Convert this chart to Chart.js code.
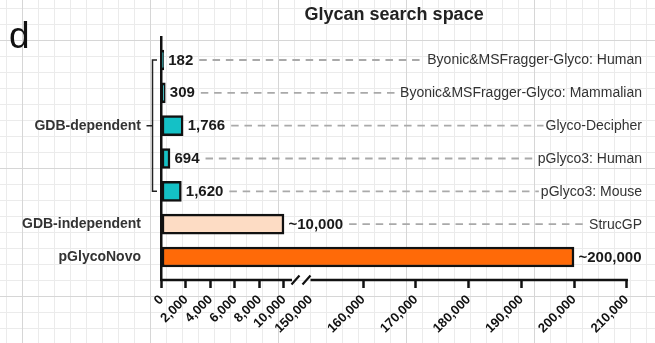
<!DOCTYPE html>
<html><head><meta charset="utf-8">
<script src="https://cdn.jsdelivr.net/npm/chart.js@4.4.0/dist/chart.umd.min.js"></script>
<style>
html,body{margin:0;padding:0;width:655px;height:343px;overflow:hidden;}
body{background-color:#fff;
background-image:
 linear-gradient(to right,#d6d6d6 1px,transparent 1px),
 linear-gradient(to bottom,#d6d6d6 1px,transparent 1px),
 linear-gradient(to right,#ebebeb 1px,transparent 1px),
 linear-gradient(to bottom,#ebebeb 1px,transparent 1px);
background-size:128px 128px,128px 128px,16px 16px,16px 16px;
background-position:22px 0,0 40px,6px 0,0 8px;}
#wrap{position:relative;width:655px;height:343px;}
</style></head><body><div id="wrap"><canvas id="c" width="655" height="343"></canvas></div>
<script>
// ---- data ----
const rowNames = ["Byonic&MSFragger-Glyco: Human","Byonic&MSFragger-Glyco: Mammalian","Glyco-Decipher","pGlyco3: Human","pGlyco3: Mouse","StrucGP",""];
const rowValues = [182, 309, 1766, 694, 1620, 10000, 200000];
const valueLabels = ["182","309","1,766","694","1,620","~10,000","~200,000"];
const rowGroup = [0,0,0,0,0,1,2];
const groupNames = ["GDB-dependent","GDB-independent","pGlycoNovo"];
const xTickValues = [0,2000,4000,6000,8000,10000,150000,160000,170000,180000,190000,200000,210000];
const axisBreak = [10000, 150000];
const panelLetter = "d";
const chartTitle = "Glycan search space";

// ---- styles ----
const groupColors = ["#14c1c6","#fddcc4","#ff6a08"];
const FONT = "'Liberation Sans', Arial, sans-serif";
Chart.defaults.font.family = FONT;

class BrokenLinearScale extends Chart.LinearScale {
  _dec(value){
    const o=this.options, lo=o.breakLow, hi=o.breakHigh, fl=o.lowFraction, fg=o.gapFraction;
    const min=this.min, max=this.max;
    if (value<=lo) return (value-min)/(lo-min)*fl;
    if (value>=hi) return fl+fg+(value-hi)/(max-hi)*(1-fl-fg);
    return fl+(value-lo)/(hi-lo)*fg;
  }
  getPixelForValue(value){ return this.getPixelForDecimal(this._dec(value)); }
  getValueForPixel(pixel){
    const o=this.options, lo=o.breakLow, hi=o.breakHigh, fl=o.lowFraction, fg=o.gapFraction;
    const d=this.getDecimalForPixel(pixel);
    if (d<=fl) return this.min+d/fl*(lo-this.min);
    if (d>=fl+fg) return hi+(d-fl-fg)/(1-fl-fg)*(this.max-hi);
    return lo+(d-fl)/fg*(hi-lo);
  }
}
BrokenLinearScale.id='brokenLinear';
BrokenLinearScale.defaults=Chart.LinearScale.defaults;
Chart.register(BrokenLinearScale);

const groupCenter = groupNames.map((g,gi)=>{
  const idx=rowGroup.map((r,i)=>r===gi?i:-1).filter(i=>i>=0);
  return (Math.min(...idx)+Math.max(...idx))/2;
});

const overlay = {
  id:'overlay',
  afterDraw(chart){
    const ctx=chart.ctx, xs=chart.scales.x, ys=chart.scales.y, ca=chart.chartArea;
    ctx.save();
    // x axis line with break
    const yA=ca.bottom;
    const pLo=xs.getPixelForValue(axisBreak[0]), pHi=xs.getPixelForValue(axisBreak[1]);
    ctx.strokeStyle='#111'; ctx.lineWidth=2.5; ctx.lineCap='butt';
    ctx.beginPath();
    ctx.moveTo(ca.left-1.25,yA); ctx.lineTo(pLo+8,yA);
    ctx.moveTo(pHi,yA); ctx.lineTo(ca.right+1.25,yA);
    ctx.stroke();
    ctx.lineWidth=2.2;
    ctx.beginPath();
    const c1=pLo+11.5, c2=pHi-4;
    ctx.moveTo(c1-4,yA+4.5); ctx.lineTo(c1+4,yA-4.5);
    ctx.moveTo(c2-4,yA+4.5); ctx.lineTo(c2+4,yA-4.5);
    ctx.stroke();
    // bracket for group 0
    const idx0=rowGroup.map((r,i)=>r===0?i:-1).filter(i=>i>=0);
    const yt=ys.getPixelForValue(Math.min(...idx0)), yb=ys.getPixelForValue(Math.max(...idx0)), ym=ys.getPixelForValue(groupCenter[0]);
    const xb=ca.left-9;
    ctx.strokeStyle='#222'; ctx.lineWidth=1.5;
    ctx.beginPath();
    ctx.moveTo(ca.left-4.5,yt); ctx.lineTo(xb,yt); ctx.lineTo(xb,yb); ctx.lineTo(ca.left-4.5,yb);
    ctx.moveTo(ca.left-15,ym); ctx.lineTo(xb,ym);
    ctx.stroke();
    // labels and leaders
    const meta=chart.getDatasetMeta(0);
    const rightX=chart.width-13;
    meta.data.forEach((bar,i)=>{
      const y=bar.y;
      ctx.font='bold 15px '+FONT; ctx.fillStyle='#1a1a1a'; ctx.textAlign='left'; ctx.textBaseline='middle';
      const vx=bar.x+4.5;
      ctx.fillText(valueLabels[i],vx,y+0.5);
      const vEnd=vx+ctx.measureText(valueLabels[i]).width;
      if (rowNames[i]){
        ctx.font='14px '+FONT; ctx.fillStyle='#333'; ctx.textAlign='right';
        ctx.fillText(rowNames[i],rightX,y+0.5);
        const rStart=rightX-ctx.measureText(rowNames[i]).width;
        ctx.strokeStyle='#a9a9a9'; ctx.lineWidth=1.8; ctx.setLineDash([7.5,5.8]);
        ctx.beginPath(); ctx.moveTo(vEnd+6,y); ctx.lineTo(rStart-2,y); ctx.stroke();
        ctx.setLineDash([]);
      }
    });
    // panel letter
    ctx.font='37px '+FONT; ctx.fillStyle='#111'; ctx.textAlign='left'; ctx.textBaseline='alphabetic';
    ctx.fillText(panelLetter,9,48.3);
    ctx.restore();
  }
};

new Chart(document.getElementById('c'),{
  type:'bar',
  data:{datasets:[{
    data:rowValues.map((v,i)=>({x:v,y:i})),
    backgroundColor:(c)=>groupColors[rowGroup[c.dataIndex]],
    borderColor:'#111',
    borderWidth:2.5,
    borderSkipped:false,
    barThickness:20
  }]},
  options:{
    indexAxis:'y',
    responsive:false,
    animation:false,
    layout:{padding:{left:0,right:28.3,top:0,bottom:0}},
    plugins:{
      legend:{display:false},
      tooltip:{enabled:false},
      title:{display:true,text:chartTitle,fullSize:false,color:'#222',
        font:{size:18,weight:'bold'},padding:{top:4.3,bottom:11.1}}
    },
    scales:{
      x:{
        type:'brokenLinear',
        min:0,max:210000,
        offset:false,
        breakLow:axisBreak[0],breakHigh:axisBreak[1],
        lowFraction:0.2633,gapFraction:0.0570,
        afterBuildTicks:(s)=>{s.ticks=xTickValues.map(v=>({value:v}));},
        afterFit:(s)=>{s.height=63;},
        border:{display:false},
        grid:{drawOnChartArea:false,drawTicks:true,tickLength:8,tickWidth:2.5,offset:false,
          tickColor:(c)=>(c.tick && c.tick.value===axisBreak[1])?'rgba(0,0,0,0)':'#111'},
        ticks:{autoSkip:false,minRotation:45,maxRotation:45,padding:4,color:'#111',
          font:{size:13,weight:'bold'},
          callback:(v)=>Number(v).toLocaleString('en-US')}
      },
      y:{
        type:'linear',
        reverse:true,
        offset:false,
        min:-0.7,max:6.7,
        afterBuildTicks:(s)=>{s.ticks=groupCenter.map(v=>({value:v}));},
        afterFit:(s)=>{s.width=161.5;},
        border:{display:true,color:'#111',width:2.5},
        grid:{display:false,drawTicks:false,offset:false},
        ticks:{padding:20.5,color:'#333',font:{size:14,weight:'bold'},autoSkip:false,
          callback:(v)=>{const k=groupCenter.indexOf(v);return k>=0?groupNames[k]:'';}}
      }
    }
  },
  plugins:[overlay]
});
</script></body></html>
